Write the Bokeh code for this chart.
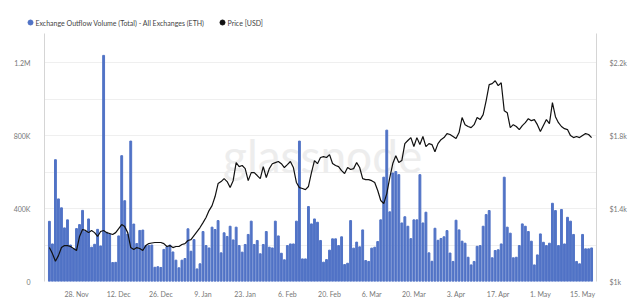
from bokeh.plotting import figure
from bokeh.layouts import column
from bokeh.models import Range1d, LinearAxis, FixedTicker
from bokeh.core.properties import value
from bokeh.embed import file_html
from bokeh.resources import INLINE

# daily data, first day = 2022-11-19
volume_k = [330, 206, 668, 453, 404, 294, 338, 200, 180, 290,
            312, 390, 275, 343, 188, 204, 286, 195, 1240, 270,
            260, 104, 105, 250, 690, 443, 260, 770, 315, 208,
            280, 282, 197, 197, 200, 78, 81, 77, 176, 190,
            200, 162, 117, 75, 117, 126, 289, 166, 230, 69,
            97, 274, 197, 184, 298, 285, 334, 157, 267, 247,
            303, 228, 298, 197, 161, 203, 258, 331, 203, 225,
            152, 203, 274, 188, 184, 331, 250, 155, 119, 197,
            206, 206, 331, 770, 124, 124, 411, 316, 343, 325,
            225, 106, 120, 172, 234, 234, 197, 245, 93, 100,
            334, 183, 216, 190, 283, 115, 110, 183, 188, 219,
            338, 572, 830, 382, 595, 603, 586, 321, 355, 303,
            235, 338, 338, 586, 321, 380, 157, 111, 292, 226,
            236, 245, 279, 156, 110, 336, 283, 221, 210, 133,
            91, 110, 193, 197, 303, 367, 389, 130, 170, 174,
            206, 572, 298, 265, 130, 133, 197, 316, 303, 274,
            221, 91, 146, 261, 215, 197, 210, 429, 389, 197,
            395, 206, 352, 331, 258, 110, 97, 258, 179, 179,
            184]

price_usd = [1186, 1153, 1111, 1142, 1186, 1197, 1197, 1192, 1181, 1170,
             1247, 1285, 1280, 1268, 1280, 1268, 1247, 1274, 1280, 1268,
             1263, 1258, 1268, 1290, 1312, 1301, 1268, 1186, 1175, 1186,
             1181, 1170, 1197, 1208, 1211, 1214, 1214, 1214, 1208, 1192,
             1197, 1186, 1192, 1192, 1203, 1208, 1225, 1230, 1252, 1274,
             1296, 1323, 1351, 1389, 1416, 1466, 1537, 1548, 1564, 1548,
             1515, 1553, 1652, 1630, 1636, 1619, 1553, 1597, 1597, 1581,
             1564, 1630, 1570, 1619, 1646, 1652, 1658, 1646, 1625, 1641,
             1658, 1625, 1543, 1515, 1510, 1504, 1521, 1597, 1663, 1646,
             1680, 1685, 1680, 1696, 1647, 1636, 1630, 1608, 1592, 1625,
             1614, 1619, 1652, 1625, 1564, 1559, 1559, 1553, 1543, 1499,
             1444, 1427, 1482, 1570, 1647, 1690, 1652, 1663, 1756, 1773,
             1789, 1740, 1789, 1751, 1795, 1740, 1756, 1751, 1712, 1756,
             1778, 1789, 1811, 1806, 1795, 1784, 1817, 1899, 1860, 1850,
             1844, 1860, 1899, 1888, 1915, 1992, 2080, 2085, 2101, 2074,
             2090, 1937, 1926, 1844, 1860, 1850, 1833, 1855, 1871, 1893,
             1882, 1888, 1860, 1822, 1855, 1888, 1866, 1981, 1904, 1871,
             1850, 1838, 1833, 1800, 1789, 1795, 1789, 1800, 1811, 1806,
             1789]

tick_days = [9, 23, 37, 51, 65, 79, 93, 107, 121, 135, 149, 163, 177]
tick_labels = ["28. Nov", "12. Dec", "26. Dec", "9. Jan", "23. Jan", "6. Feb",
               "20. Feb", "6. Mar", "20. Mar", "3. Apr", "17. Apr", "1. May",
               "15. May"]

vol_ticks = [0, 400000, 800000, 1200000]
vol_tick_labels = ["0", "400K", "800K", "1.2M"]
price_ticks = [1000, 1400, 1800, 2200]
price_tick_labels = ["$1k", "$1.4k", "$1.8k", "$2.2k"]

series_names = ["Exchange Outflow Volume (Total) - All Exchanges (ETH)", "Price [USD]"]
series_colors = ["#5173c6", "#111111"]

days = list(range(len(volume_k)))
volume = [v * 1000 for v in volume_k]

FONT = "Lato"

# ---- legend strip (top 33 px) ----
leg = figure(width=640, height=33, output_backend="svg", toolbar_location=None,
             x_range=Range1d(0, 640), y_range=Range1d(33, 0),
             x_axis_type=None, y_axis_type=None,
             min_border_left=0, min_border_right=0, min_border_top=0,
             min_border_bottom=0)
try:
    leg.frame_align = False
except Exception:
    pass
leg.outline_line_color = None
leg.grid.visible = False
leg_dot_x = [30, 222]
leg_y = [22, 22]
leg.scatter(leg_dot_x, leg_y, marker="circle", size=5, color=series_colors)
leg.text(x=[x + 5 for x in leg_dot_x], y=leg_y, text=series_names,
         text_font=value(FONT), text_font_size="7px", text_color="#444444",
         text_baseline="middle", text_align="left")

# ---- main chart ----
p = figure(width=640, height=268, output_backend="svg", toolbar_location=None,
           x_range=Range1d(-1.63, 181.63), y_range=Range1d(0, 1360000),
           min_border_left=44, min_border_right=44, min_border_top=0,
           min_border_bottom=20)
p.outline_line_color = None
p.background_fill_color = "white"
p.border_fill_color = "white"

p.extra_y_ranges = {"price": Range1d(1000, 2360)}

# watermark
p.text(x=[90.7], y=[690000], text=["glassnode"], text_font=value(FONT),
       text_font_size="46px", text_color="#ededed", text_align="center",
       text_baseline="middle")

p.vbar(x=days, top=volume, width=0.62, color=series_colors[0])
p.line(days, price_usd, y_range_name="price", color=series_colors[1], line_width=1.2)

ax = p.xaxis[0]
ax.ticker = FixedTicker(ticks=tick_days)
ax.major_label_overrides = {d: l for d, l in zip(tick_days, tick_labels)}
ax.axis_line_color = None
ax.major_tick_line_color = None
ax.minor_tick_line_color = None
ax.major_label_standoff = 2
ax.major_label_text_font = FONT
ax.major_label_text_font_size = "7px"
ax.major_label_text_color = "#777777"

ly = p.yaxis[0]
ly.ticker = FixedTicker(ticks=vol_ticks)
ly.major_label_overrides = {t: l for t, l in zip(vol_ticks, vol_tick_labels)}
ly.axis_line_color = "#d5d5d5"
ly.major_tick_line_color = None
ly.minor_tick_line_color = None
ly.major_label_standoff = 8
ly.major_label_text_font = FONT
ly.major_label_text_font_size = "7px"
ly.major_label_text_color = "#777777"

ry = LinearAxis(y_range_name="price")
ry.ticker = FixedTicker(ticks=price_ticks)
ry.major_label_overrides = {t: l for t, l in zip(price_ticks, price_tick_labels)}
ry.axis_line_color = "#d5d5d5"
ry.major_tick_line_color = None
ry.minor_tick_line_color = None
ry.major_label_standoff = 7
ry.major_label_text_font = FONT
ry.major_label_text_font_size = "7px"
ry.major_label_text_color = "#777777"
p.add_layout(ry, "right")

p.xgrid.grid_line_color = None
p.ygrid.ticker = FixedTicker(ticks=[200000 * i for i in range(1, 7)])
p.ygrid.grid_line_color = "#efefef"

page = column(leg, p, spacing=0)
open("out.html", "w").write(file_html(page, INLINE))
